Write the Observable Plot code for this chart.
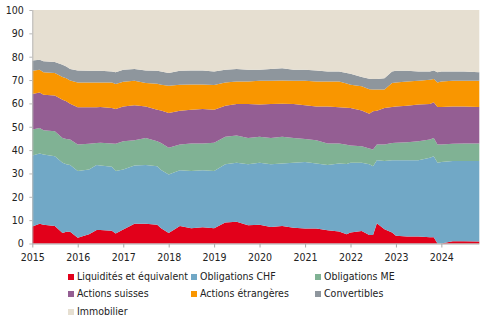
<!DOCTYPE html>
<html>
<head>
<meta charset="utf-8">
<script src="https://cdn.jsdelivr.net/npm/d3@7"></script>
<script src="https://cdn.jsdelivr.net/npm/@observablehq/plot@0.6"></script>
<style>
  body { margin: 0; background: #fff; font-family: "DejaVu Sans Condensed", "Liberation Sans", sans-serif; }
  #chart svg { display: block; }
  .legend { display: grid; grid-template-columns: 123px 124px 140px; margin-left: 68px; padding-top: 3px; font-size: 10.5px; color: #222; }
  .legend div { height: 17.3px; line-height: 17.3px; white-space: nowrap; }
  .legend span.sw { display: inline-block; width: 6px; height: 6px; margin-right: 3px; vertical-align: 0px; }
</style>
</head>
<body>
<div id="chart"></div>
<div class="legend" id="legend"></div>
<script>
const dates = ["2015-01","2015-03","2015-04","2015-07","2015-09","2015-10","2015-11",
  "2016-01","2016-04","2016-06","2016-07","2016-10","2016-11",
  "2017-01","2017-04","2017-07","2017-10","2017-11",
  "2018-01","2018-04","2018-07","2018-10",
  "2019-01","2019-04","2019-07","2019-10",
  "2020-01","2020-04","2020-07","2020-10",
  "2021-01","2021-04","2021-07","2021-10","2021-12",
  "2022-01","2022-04","2022-06","2022-07","2022-08","2022-10","2022-12",
  "2023-01","2023-04","2023-07","2023-10","2023-11","2023-12",
  "2024-01","2024-04","2024-07","2024-11"];

const liquidites = [7.3,8.5,8.0,7.5,4.5,5.0,5.0, 2.5,4.0,5.8,5.8,5.5,4.3, 6.0,8.5,8.5,8.0,6.5, 4.5,7.5,6.5,7.0, 6.5,9.0,9.3,7.8, 8.0,7.1,7.5,6.7, 6.4,6.4,5.7,5.1,4.0, 4.7,5.4,3.6,3.6,8.7,6.1,4.7, 3.3,3.0,3.0,2.7,2.7,0.0, 0.0,1.0,1.0,0.9];
const obligationsCHF = [30.4,30.0,30.1,29.9,30.1,28.9,28.6, 28.5,27.7,27.8,27.6,27.4,26.7, 25.7,24.9,25.1,25.1,25.0, 25.1,23.9,24.5,24.4, 24.5,24.9,25.3,26.1, 26.6,26.8,26.8,27.9, 28.5,27.9,27.9,29.2,30.0, 29.9,29.2,30.3,29.5,26.9,29.2,30.9, 32.4,32.7,32.7,34.0,34.7,34.6, 34.9,34.3,34.3,34.4];
const obligationsME = [11.1,11.0,10.4,10.7,10.6,10.9,10.9, 11.4,11.0,9.4,9.7,9.9,11.7, 12.1,10.8,11.6,10.7,11.5, 11.4,11.0,11.8,11.4, 12.1,11.8,11.6,11.3, 11.1,11.3,11.4,10.6, 9.9,9.9,9.2,8.5,8.3, 7.4,7.1,6.8,7.2,6.8,7.1,7.4, 7.4,7.7,8.1,7.8,7.8,7.8, 7.5,7.4,7.5,7.5];
const actionsSuisses = [15.2,15.2,15.2,15.3,16.4,16.1,15.4, 15.9,15.6,15.4,15.4,15.2,14.9, 14.9,15.0,13.5,13.5,14.0, 14.9,14.5,14.5,14.8, 14.2,13.3,13.5,14.5, 13.8,14.5,14.2,14.5, 14.4,14.5,15.9,15.5,15.8, 16.0,15.3,14.9,16.3,14.5,15.6,15.5, 15.6,15.6,15.7,15.2,15.3,16.1, 16.1,16.0,15.9,15.7];
const actionsEtrangeres = [10.0,9.7,9.6,9.6,9.7,9.9,9.9, 10.7,10.7,10.6,10.5,11.0,10.7, 10.6,10.5,10.0,11.1,11.0, 11.7,11.1,10.8,10.5, 10.6,10.0,9.7,9.7, 10.2,10.0,9.9,10.0, 10.5,10.7,10.7,11.1,10.4, 10.0,10.3,10.5,9.3,9.0,7.9,10.2, 10.3,10.4,10.2,10.4,9.9,10.5, 10.9,11.0,11.0,11.2];
const convertibles = [4.4,4.3,4.7,4.7,5.2,5.0,4.9, 5.1,5.0,5.0,5.0,4.7,5.0, 5.1,5.0,5.4,5.6,5.7, 5.4,6.0,6.0,6.0, 5.8,5.4,5.3,5.0, 4.7,5.0,5.3,4.7, 4.7,4.7,4.3,4.3,4.5, 4.7,4.0,4.5,4.5,4.6,4.9,5.0, 5.0,4.6,4.0,3.6,3.7,4.3, 4.3,4.0,4.0,3.6];
const immobilier = [21.6,21.3,22.0,22.3,23.5,24.2,25.3, 25.9,26.0,26.0,26.0,26.3,26.7, 25.6,25.3,25.9,26.0,26.3, 27.0,26.0,25.9,25.9, 26.3,25.6,25.3,25.6, 25.6,25.3,24.9,25.6, 25.6,25.9,26.3,26.3,27.0, 27.3,28.7,29.4,29.6,29.5,29.2,26.3, 26.0,26.0,26.3,26.3,25.9,26.7, 26.3,26.3,26.3,26.7];

const seriesNames = ["Liquidités et équivalent","Obligations CHF","Obligations ME","Actions suisses","Actions étrangères","Convertibles","Immobilier"];
const seriesValues = [liquidites, obligationsCHF, obligationsME, actionsSuisses, actionsEtrangeres, convertibles, immobilier];
const colors = ["#e2001a","#71a8c6","#80b294","#945e93","#f99600","#8e969d","#e6dfd1"];
const years = [2015,2016,2017,2018,2019,2020,2021,2022,2023,2024];
const yTicks = [0,10,20,30,40,50,60,70,80,90,100];

const parse = s => { const [y, m] = s.split("-").map(Number); return new Date(Date.UTC(y, m - 1, 1)); };
const dateObjs = dates.map(parse);
const data = [];
seriesNames.forEach((name, i) => {
  dateObjs.forEach((d, j) => data.push({date: d, series: name, value: seriesValues[i][j]}));
});

const font = "'DejaVu Sans Condensed', 'Liberation Sans', sans-serif";
const chart = Plot.plot({
  width: 500,
  height: 265,
  marginLeft: 32.3,
  marginRight: 20.7,
  marginTop: 10,
  marginBottom: 21.5,
  style: {fontFamily: font, fontSize: "10.5px", background: "#fff", color: "#222"},
  x: {type: "utc", domain: [dateObjs[0], dateObjs[dateObjs.length - 1]], axis: null},
  y: {domain: [0, 100], axis: null},
  color: {domain: seriesNames, range: colors},
  marks: [
    Plot.areaY(data, {x: "date", y: "value", z: "series", fill: "series", order: seriesNames, curve: "linear"}),
    Plot.ruleY([0], {stroke: "#a8a8a8"}),
    Plot.ruleX([dateObjs[0]], {stroke: "#b8b8b8"}),
    Plot.axisX({ticks: years.map(y => new Date(Date.UTC(y, 0, 1))), tickFormat: d => String(d.getUTCFullYear()), tickSize: 4, tickPadding: 6, stroke: "#a8a8a8", fill: "#222", label: null}),
    Plot.axisY({ticks: yTicks, tickSize: 3, tickPadding: 6, stroke: "#b8b8b8", fill: "#222", label: null})
  ]
});
document.getElementById("chart").appendChild(chart);

const legend = document.getElementById("legend");
seriesNames.forEach((name, i) => {
  const item = document.createElement("div");
  const sw = document.createElement("span");
  sw.className = "sw";
  sw.style.background = colors[i];
  item.appendChild(sw);
  item.appendChild(document.createTextNode(name));
  legend.appendChild(item);
});
</script>
</body>
</html>
